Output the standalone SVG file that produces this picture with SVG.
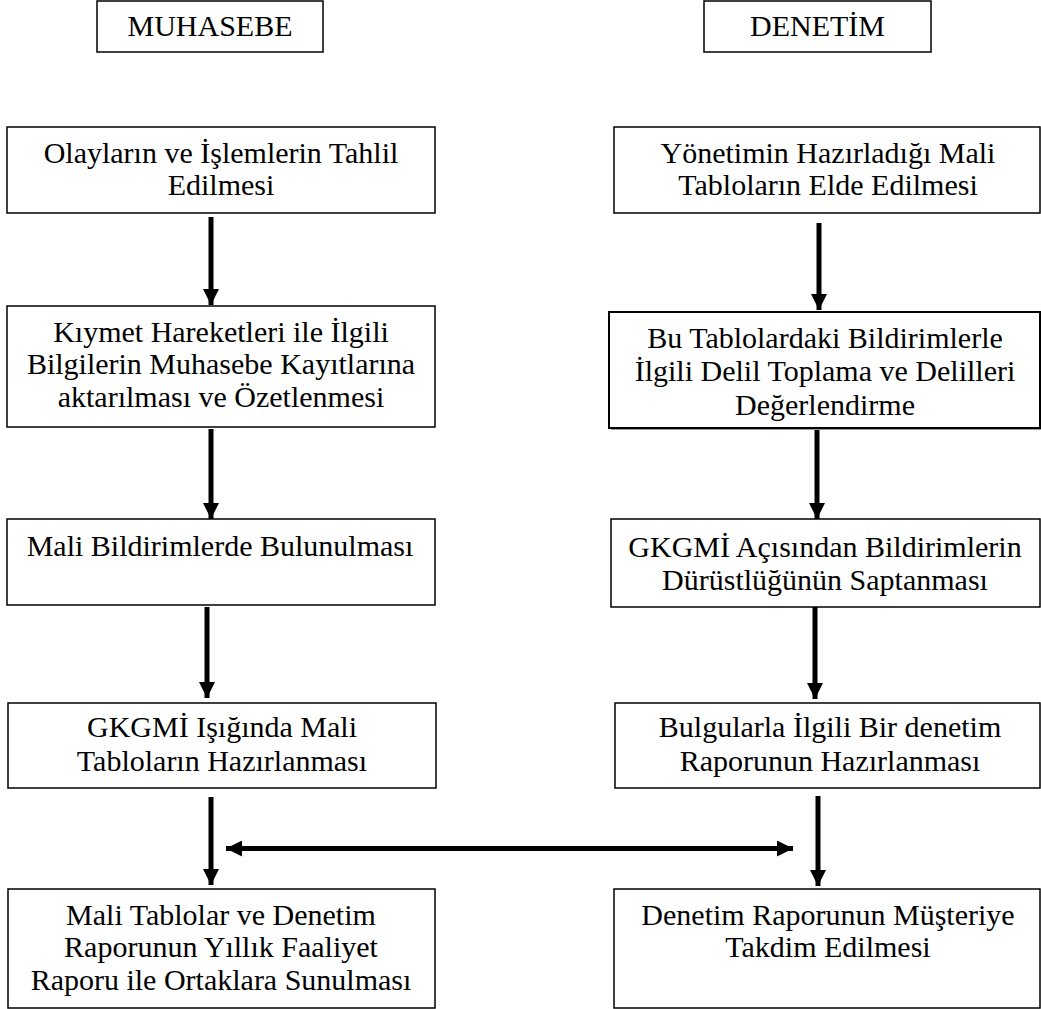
<svg xmlns="http://www.w3.org/2000/svg" width="1041" height="1009" viewBox="0 0 1041 1009">
<style>
.box{fill:#fff;stroke:#000;stroke-width:1.5}
.c{stroke:#000;stroke-width:5;fill:none}
</style>
<defs>
<marker id="ah" markerUnits="userSpaceOnUse" markerWidth="16" markerHeight="16" refX="16" refY="8" orient="auto-start-reverse">
<path d="M0,0 L16,8 L0,16 z" fill="#000"/>
</marker>
</defs>
<rect width="1041" height="1009" fill="#fff"/>
<g id="h-muhasebe"><rect class="box" x="97" y="1" width="226" height="51"/><text font-family="Liberation Serif" font-size="30" text-anchor="middle" x="210" y="36">MUHASEBE</text></g>
<g id="h-denetim"><rect class="box" x="704" y="1" width="227" height="51"/><text font-family="Liberation Serif" font-size="30" text-anchor="middle" x="817.5" y="36">DENETİM</text></g>

<g id="l1"><rect class="box" x="7" y="127" width="428" height="86"/><text font-family="Liberation Serif" font-size="30" text-anchor="middle" x="221" y="163">Olayların ve İşlemlerin Tahlil</text><text font-family="Liberation Serif" font-size="30" text-anchor="middle" x="221" y="195">Edilmesi</text></g>
<g id="l2"><rect class="box" x="7" y="306" width="428" height="121"/><text font-family="Liberation Serif" font-size="30" text-anchor="middle" x="221" y="342">Kıymet Hareketleri ile İlgili</text><text font-family="Liberation Serif" font-size="30" text-anchor="middle" x="221" y="374">Bilgilerin Muhasebe Kayıtlarına</text><text font-family="Liberation Serif" font-size="30" text-anchor="middle" x="221" y="407">aktarılması ve Özetlenmesi</text></g>
<g id="l3"><rect class="box" x="7" y="519" width="428" height="86"/><text font-family="Liberation Serif" font-size="30" text-anchor="middle" x="220" y="556">Mali Bildirimlerde Bulunulması</text></g>
<g id="l4"><rect class="box" x="8" y="703" width="428" height="85"/><text font-family="Liberation Serif" font-size="30" text-anchor="middle" x="222" y="737">GKGMİ Işığında Mali</text><text font-family="Liberation Serif" font-size="30" text-anchor="middle" x="222" y="771">Tabloların Hazırlanması</text></g>
<g id="l5"><rect class="box" x="8" y="889" width="427" height="119"/><text font-family="Liberation Serif" font-size="30" text-anchor="middle" x="221" y="925">Mali Tablolar ve Denetim</text><text font-family="Liberation Serif" font-size="30" text-anchor="middle" x="221" y="957">Raporunun Yıllık Faaliyet</text><text font-family="Liberation Serif" font-size="30" text-anchor="middle" x="221" y="990">Raporu ile Ortaklara Sunulması</text></g>

<g id="r1"><rect class="box" x="614" y="127" width="426" height="86"/><text font-family="Liberation Serif" font-size="30" text-anchor="middle" x="828" y="163">Yönetimin Hazırladığı Mali</text><text font-family="Liberation Serif" font-size="30" text-anchor="middle" x="828" y="195">Tabloların Elde Edilmesi</text></g>
<g id="r2"><rect x="611" y="314" width="430" height="116" fill="#999"/><rect class="box" x="609" y="312" width="431" height="116" style="stroke-width:2"/><text font-family="Liberation Serif" font-size="30" text-anchor="middle" x="825" y="348">Bu Tablolardaki Bildirimlerle</text><text font-family="Liberation Serif" font-size="30" text-anchor="middle" x="825" y="381">İlgili Delil Toplama ve Delilleri</text><text font-family="Liberation Serif" font-size="30" text-anchor="middle" x="825" y="415">Değerlendirme</text></g>
<g id="r3"><rect class="box" x="611" y="519" width="429" height="88"/><text font-family="Liberation Serif" font-size="30" text-anchor="middle" x="825" y="557">GKGMİ Açısından Bildirimlerin</text><text font-family="Liberation Serif" font-size="30" text-anchor="middle" x="825" y="590">Dürüstlüğünün Saptanması</text></g>
<g id="r4"><rect class="box" x="615" y="703" width="425" height="85"/><text font-family="Liberation Serif" font-size="30" text-anchor="middle" x="830" y="737">Bulgularla İlgili Bir denetim</text><text font-family="Liberation Serif" font-size="30" text-anchor="middle" x="830" y="771">Raporunun Hazırlanması</text></g>
<g id="r5"><rect class="box" x="614" y="889" width="426" height="119"/><text font-family="Liberation Serif" font-size="30" text-anchor="middle" x="828" y="925">Denetim Raporunun Müşteriye</text><text font-family="Liberation Serif" font-size="30" text-anchor="middle" x="828" y="957">Takdim Edilmesi</text></g>

<g id="connectors">
<line class="c" x1="211" y1="217" x2="211" y2="305" marker-end="url(#ah)"/>
<line class="c" x1="211" y1="429" x2="211" y2="519" marker-end="url(#ah)"/>
<line class="c" x1="207" y1="607" x2="207" y2="698" marker-end="url(#ah)"/>
<line class="c" x1="211" y1="797" x2="211" y2="885" marker-end="url(#ah)"/>
<line class="c" x1="819" y1="223" x2="819" y2="310" marker-end="url(#ah)"/>
<line class="c" x1="817" y1="430" x2="817" y2="519" marker-end="url(#ah)"/>
<line class="c" x1="815" y1="607" x2="815" y2="699" marker-end="url(#ah)"/>
<line class="c" x1="818" y1="796" x2="818" y2="886" marker-end="url(#ah)"/>
<line class="c" x1="226" y1="848.5" x2="793" y2="848.5" marker-start="url(#ah)" marker-end="url(#ah)"/>
</g>
</svg>
